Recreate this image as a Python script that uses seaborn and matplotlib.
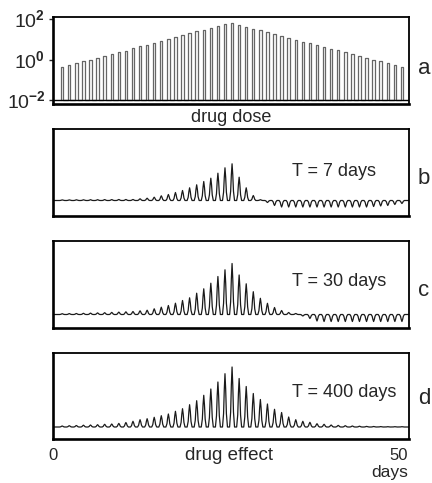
import numpy as np
import pandas as pd
import seaborn as sns
import matplotlib.pyplot as plt
from matplotlib.ticker import NullLocator

# values ---------------------------------------------------
days = list(range(1, 50))          # one dose pulse per day
# panel a: pulse height as power of ten
dose_exp = [-0.38, -0.28, -0.16, -0.08, 0.0, 0.08, 0.2, 0.28, 0.36, 0.45,
            0.58, 0.66, 0.74, 0.83, 0.94, 1.02, 1.1, 1.2, 1.32, 1.4,
            1.47, 1.56, 1.66, 1.75, 1.82, 1.73, 1.63, 1.53, 1.45, 1.37,
            1.29, 1.19, 1.09, 0.99, 0.89, 0.81, 0.73, 0.63, 0.54, 0.46,
            0.36, 0.28, 0.18, 0.1, 0.0, -0.08, -0.18, -0.26, -0.36]
# panels b-d: daily peak of the effect above its baseline (arb. units)
effect_7 = [0.6, 0.6, 0.7, 0.7, 0.8, 0.8, 0.9, 0.9, 1.0, 1.0,
            1.0, 1.7, 2.3, 3.3, 4.7, 6.0, 8.0, 10.0, 12.7, 15.7,
            19.0, 22.3, 27.3, 32.7, 36.7, 23.3, 12.7, 5.0, 0.8, -2.0,
            -5.0, -6.5, -6.5, -6.5, -6.5, -6.5, -6.5, -6.5, -6.5, -6.5,
            -6.5, -6.5, -6.5, -6.5, -6.0, -5.5, -5.0, -4.0, -3.0]
effect_30 = [0.8, 0.9, 1.0, 1.2, 1.4, 1.6, 1.8, 2.1, 2.4, 2.7,
             3.0, 3.7, 4.3, 5.7, 7.3, 9.0, 11.3, 14.0, 16.7, 21.3,
             25.7, 31.3, 38.0, 44.7, 51.0, 39.5, 30.7, 22.8, 16.2, 11.2,
             7.0, 4.0, 2.0, 1.0, -1.5, -4.0, -6.5, -7.0, -7.0, -7.0,
             -7.0, -7.0, -7.0, -7.0, -7.0, -7.0, -7.0, -7.0, -7.0]
effect_400 = [1.0, 1.3, 1.5, 1.8, 2.0, 2.3, 2.7, 3.0, 3.6, 4.5,
              5.7, 7.3, 8.3, 9.7, 11.3, 13.0, 15.7, 18.3, 22.3, 26.3,
              31.7, 38.0, 45.0, 53.3, 60.0, 48.5, 40.5, 33.5, 27.5, 23.0,
              17.7, 14.5, 10.0, 7.3, 5.7, 4.7, 3.3, 2.7, 2.0, 1.6,
              1.3, 1.0, 0.8, 0.6, 0.5, 0.4, 0.3, 0.3, 0.3]
period_labels = ['T = 7 days', 'T = 30 days', 'T = 400 days']
panel_tags = ['a', 'b', 'c', 'd']
# -----------------------------------------------------------

sns.set_style('white')
plt.rcParams['font.family'] = ['Liberation Sans', 'DejaVu Sans']
plt.rcParams['mathtext.fontset'] = 'custom'
plt.rcParams['mathtext.rm'] = 'Liberation Sans'
plt.rcParams['mathtext.bf'] = 'Liberation Sans:bold'

base = 1e-2
half = 0.17
px, py = [], []
for d, e in zip(days, dose_exp):
    v = 10 ** e
    px += [d - half, d - half, d + half, d + half]
    py += [base, v, v, base]
dose_df = pd.DataFrame({'day': px, 'dose': py})

# spike outline drawn around each daily peak
off = [-0.35, -0.2, -0.1, 0, 0.1, 0.2, 0.35]
shape = [0, 0.25, 0.7, 1, 0.7, 0.25, 0]


def trace(vals):
    tx, ty = [days[0] - 1.3], [0]
    for d, v in zip(days, vals):
        for o, s in zip(off, shape):
            tx.append(d + o)
            ty.append(v * s)
    tx.append(days[-1] + 1.3)
    ty.append(0)
    return pd.DataFrame({'day': tx, 'effect': ty})


fig = plt.figure(figsize=(4.32, 4.83), dpi=100)
W, H = 432, 483
left, width = 53 / W, 356 / W
xlim = (-0.3, 50)


def frame(ax):
    for s in ax.spines.values():
        s.set_visible(True)
        s.set_color('black')
        s.set_linewidth(1.3)
    ax.spines['left'].set_linewidth(1.9)
    ax.spines['bottom'].set_linewidth(1.9)
    ax.set_xlim(*xlim)
    ax.set_xticks([])
    ax.set_xlabel('')
    ax.set_ylabel('')


# panel a: drug dose
ax = fig.add_axes([left, (H - 104) / H, width, 87 / H])
sns.lineplot(data=dose_df, x='day', y='dose', estimator=None, sort=False,
             color='0.4', lw=0.9, ax=ax)
ax.axhline(base, color='black', lw=1.0)
ax.set_yscale('log')
ax.set_ylim(10 ** -2.2, 10 ** 2.11)
ax.set_yticks([1e-2, 1, 1e2])
ax.set_yticklabels([r'$\mathrm{10}^{\mathbf{-2}}$', r'$\mathrm{10}^{\mathbf{0}}$',
                    r'$\mathrm{10}^{\mathbf{2}}$'])
ax.yaxis.set_minor_locator(NullLocator())
ax.tick_params(axis='y', left=True, length=3, width=1, pad=2.5, labelsize=14)
frame(ax)
fig.text(231 / W, 1 - 122 / H, 'drug dose', ha='center', va='baseline', fontsize=13)

# panels b-d: drug effect
tops = [216, 328, 439]
heights = [87, 87, 86]
ylims = [(-15.5, 71.5), (-13.5, 73.5), (-12, 74)]
text_y = [0.46, 0.483, 0.488]
for i, vals in enumerate([effect_7, effect_30, effect_400]):
    ax = fig.add_axes([left, (H - tops[i]) / H, width, heights[i] / H])
    sns.lineplot(data=trace(vals), x='day', y='effect', estimator=None,
                 sort=False, color='0.1', lw=0.9, ax=ax)
    ax.set_ylim(*ylims[i])
    ax.set_yticks([])
    frame(ax)
    ax.text(0.671, text_y[i], period_labels[i], transform=ax.transAxes,
            ha='left', va='baseline', fontsize=13)

for tag, yc in zip(panel_tags, [69, 178, 291, 399]):
    fig.text(424 / W, 1 - yc / H, tag, ha='center', va='center', fontsize=16)

fig.text(53 / W, 1 - 460 / H, '0', ha='center', va='baseline', fontsize=12)
fig.text(229 / W, 1 - 460 / H, 'drug effect', ha='center', va='baseline', fontsize=13.5)
fig.text(408 / W, 1 - 460 / H, '50', ha='right', va='baseline', fontsize=12)
fig.text(408 / W, 1 - 477 / H, 'days', ha='right', va='baseline', fontsize=12.5)

fig.savefig('out.png', dpi=100)
